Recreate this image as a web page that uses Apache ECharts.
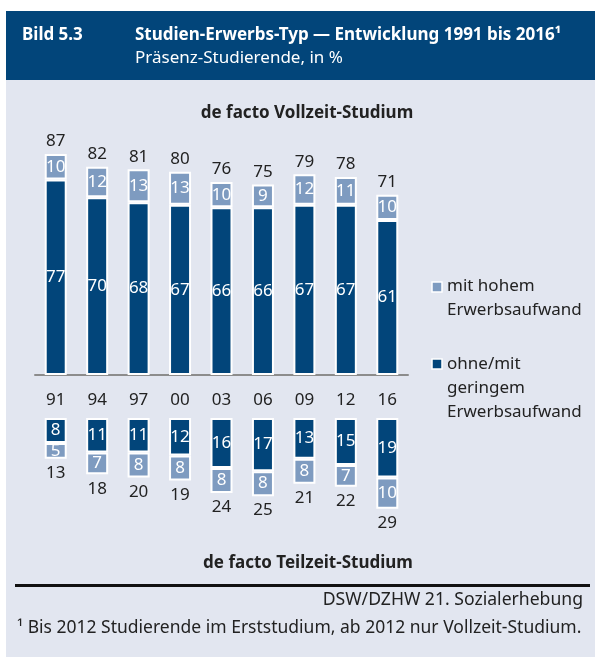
<!DOCTYPE html>
<html>
<head>
<meta charset="utf-8">
<script src="https://cdn.jsdelivr.net/npm/echarts@6/dist/echarts.min.js"></script>
<style>
html, body { margin: 0; padding: 0; background: #fff; }
#chart { width: 595px; height: 657px; }
</style>
</head>
<body>
<div id="chart"></div>
<script>
var years = ['91', '94', '97', '00', '03', '06', '09', '12', '16'];
// de facto Vollzeit-Studium
var vollGering = [77, 70, 68, 67, 66, 66, 67, 67, 61];
var vollHoch = [10, 12, 13, 13, 10, 9, 12, 11, 10];
var vollTotal = [87, 82, 81, 80, 76, 75, 79, 78, 71];
// de facto Teilzeit-Studium
var teilGering = [8, 11, 11, 12, 16, 17, 13, 15, 19];
var teilHoch = [5, 7, 8, 8, 8, 8, 8, 7, 10];
var teilTotal = [13, 18, 20, 19, 24, 25, 21, 22, 29];

var dark = '#02457a';
var light = '#7e9bc0';
var bg = '#e2e6f0';
var ink = '#222222';
var font = '"Noto Sans", sans-serif';

var chartDom = document.getElementById('chart');
var myChart = echarts.init(chartDom);

var inside = {
    show: true,
    position: 'inside',
    color: '#fff',
    fontSize: 17,
    fontFamily: font
};

function zeros() {
    return years.map(function () { return 0; });
}

var option = {
    animation: false,
    textStyle: { fontFamily: font },
    graphic: [
        // panel + header band
        { type: 'rect', z: -10, shape: { x: 6, y: 80, width: 589, height: 577 }, style: { fill: bg } },
        { type: 'rect', z: -10, shape: { x: 6, y: 11, width: 589, height: 69 }, style: { fill: dark } },
        { type: 'text', style: { x: 22, y: 35, text: 'Bild 5.3', fill: '#fff', font: 'bold 17px ' + font, verticalAlign: 'middle' } },
        { type: 'text', style: { x: 135, y: 35, text: 'Studien-Erwerbs-Typ \u2014 Entwicklung 1991 bis 2016\u00b9', fill: '#fff', font: 'bold 17px ' + font, verticalAlign: 'middle' } },
        { type: 'text', style: { x: 135, y: 58, text: 'Pr\u00e4senz-Studierende, in %', fill: '#fff', font: '17px ' + font, verticalAlign: 'middle' } },
        // section titles
        { type: 'text', style: { x: 307, y: 113, text: 'de facto Vollzeit-Studium', fill: ink, font: 'bold 17px ' + font, align: 'center', verticalAlign: 'middle' } },
        { type: 'text', style: { x: 308, y: 563, text: 'de facto Teilzeit-Studium', fill: ink, font: 'bold 17px ' + font, align: 'center', verticalAlign: 'middle' } },
        // legend
        { type: 'rect', shape: { x: 432, y: 282, width: 10, height: 10 }, style: { fill: light, stroke: '#fff', lineWidth: 1.5 } },
        { type: 'text', style: { x: 447, y: 274, text: 'mit hohem\nErwerbsaufwand', fill: ink, font: '17px ' + font, lineHeight: 24, verticalAlign: 'top' } },
        { type: 'rect', shape: { x: 432, y: 359, width: 10, height: 10 }, style: { fill: dark, stroke: '#fff', lineWidth: 1.5 } },
        { type: 'text', style: { x: 447, y: 352, text: 'ohne/mit\ngeringem\nErwerbsaufwand', fill: ink, font: '17px ' + font, lineHeight: 24, verticalAlign: 'top' } },
        // footer
        { type: 'rect', shape: { x: 15, y: 584, width: 575, height: 3 }, style: { fill: '#111' } },
        { type: 'text', style: { x: 583, y: 600, text: 'DSW/DZHW 21. Sozialerhebung', fill: ink, font: '17.6px ' + font, align: 'right', verticalAlign: 'middle' } },
        { type: 'text', style: { x: 17, y: 628, text: '\u00b9 Bis 2012 Studierende im Erststudium, ab 2012 nur Vollzeit-Studium.', fill: ink, font: '17.5px ' + font, verticalAlign: 'middle' } }
    ],
    grid: [
        { left: 35, width: 373, top: 121, height: 254 },
        { left: 35, width: 373, top: 418, height: 125 }
    ],
    xAxis: [
        {
            type: 'category',
            gridIndex: 0,
            data: years,
            axisTick: { show: false },
            axisLine: { show: true, lineStyle: { color: '#8c8c8c', width: 2 } },
            axisLabel: { color: ink, fontSize: 17, margin: 17 }
        },
        {
            type: 'category',
            gridIndex: 1,
            data: years,
            show: false
        }
    ],
    yAxis: [
        { type: 'value', gridIndex: 0, min: 0, max: 100, show: false },
        { type: 'value', gridIndex: 1, min: 0, max: 40, inverse: true, show: false }
    ],
    series: [
        {
            name: 'ohne/mit geringem Erwerbsaufwand',
            type: 'bar', xAxisIndex: 0, yAxisIndex: 0, stack: 'voll',
            barWidth: 22,
            itemStyle: { color: dark, borderColor: '#fff', borderWidth: 2 },
            label: inside,
            data: vollGering
        },
        {
            name: 'mit hohem Erwerbsaufwand',
            type: 'bar', xAxisIndex: 0, yAxisIndex: 0, stack: 'voll',
            barWidth: 22,
            itemStyle: { color: light, borderColor: '#fff', borderWidth: 2 },
            label: inside,
            data: vollHoch
        },
        {
            name: 'Vollzeit gesamt',
            type: 'bar', xAxisIndex: 0, yAxisIndex: 0, stack: 'voll',
            barWidth: 22,
            itemStyle: { color: 'rgba(0,0,0,0)', borderWidth: 0 },
            label: {
                show: true, position: 'top', distance: 4,
                color: ink, fontSize: 17, fontFamily: font,
                formatter: function (p) { return vollTotal[p.dataIndex]; }
            },
            data: zeros()
        },
        {
            name: 'ohne/mit geringem Erwerbsaufwand',
            type: 'bar', xAxisIndex: 1, yAxisIndex: 1, stack: 'teil',
            barWidth: 22,
            itemStyle: { color: dark, borderColor: '#fff', borderWidth: 2 },
            label: inside,
            data: teilGering
        },
        {
            name: 'mit hohem Erwerbsaufwand',
            type: 'bar', xAxisIndex: 1, yAxisIndex: 1, stack: 'teil',
            barWidth: 22,
            itemStyle: { color: light, borderColor: '#fff', borderWidth: 2 },
            label: inside,
            data: teilHoch
        },
        {
            name: 'Teilzeit gesamt',
            type: 'bar', xAxisIndex: 1, yAxisIndex: 1, stack: 'teil',
            barWidth: 22,
            itemStyle: { color: 'rgba(0,0,0,0)', borderWidth: 0 },
            label: {
                show: true, position: 'bottom', distance: 6,
                color: ink, fontSize: 17, fontFamily: font,
                formatter: function (p) { return teilTotal[p.dataIndex]; }
            },
            data: zeros()
        }
    ]
};
myChart.setOption(option);
</script>
</body>
</html>
